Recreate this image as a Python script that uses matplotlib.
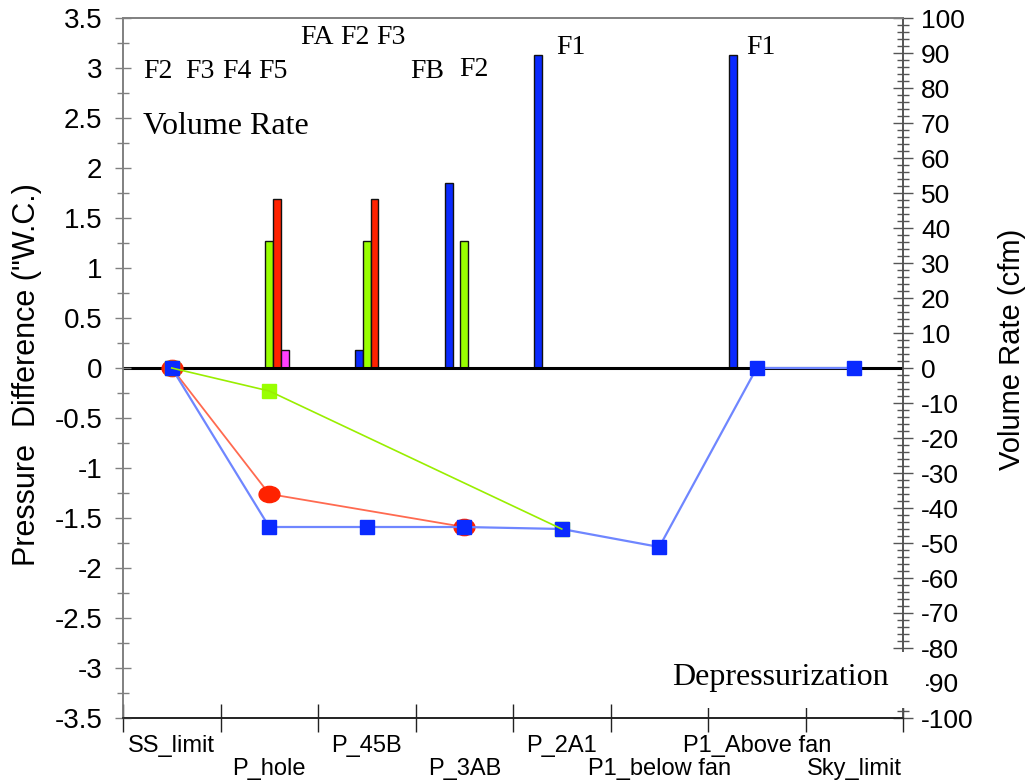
import matplotlib
matplotlib.use("Agg")
import matplotlib.pyplot as plt
from matplotlib.path import Path
from matplotlib.transforms import Affine2D
from matplotlib.patches import Rectangle
import numpy as np

# ---------------- data ----------------
categories = ["SS_limit", "P_hole", "P_45B", "P_3AB", "P_2A1",
              "P1_below fan", "P1_Above fan", "Sky_limit"]

# pressure difference ("W.C.) per location, None = no point
press_blue = [0, -1.59, -1.59, -1.59, -1.61, -1.79, 0, 0]
press_red = [0, -1.26, None, -1.59, None, None, None, None]
press_green = [0, -0.23, None, None, -1.61, None, None, None]

# volume rate (cfm) per flow, per location
flow_F1 = [0, 0, 0, 0, 89.4, 0, 89.4, 0]
flow_FB = [0, 0, 0, 52.9, 0, 0, 0, 0]
flow_FA = [0, 0, 5.1, 0, 0, 0, 0, 0]
flow_F2 = [0, 36.3, 36.3, 36.3, 0, 0, 0, 0]
flow_F3 = [0, 48.3, 48.3, 0, 0, 0, 0, 0]
flow_F5 = [0, 5.1, 0, 0, 0, 0, 0, 0]

left_ticks = [3.5, 3, 2.5, 2, 1.5, 1, 0.5, 0, -0.5, -1, -1.5, -2, -2.5, -3, -3.5]
right_ticks = list(range(-100, 101, 10))

BLUE = "#0a2aff"
RED = "#ff2200"
GREEN = "#99ff00"
MAGENTA = "#ff40ff"

SANS = "Liberation Sans"
SERIF = "Liberation Serif"

fig = plt.figure(figsize=(10.31, 7.84), dpi=100)
ax = fig.add_axes([123 / 1031, 66 / 784, 780 / 1031, 700 / 784])
ax2 = ax.twinx()
ax.set_zorder(ax2.get_zorder() + 1)
ax.patch.set_visible(False)

x = np.arange(len(categories))

# ---------------- bars (right axis) ----------------
bw = 0.08
bar_series = [(flow_F1, -3, BLUE), (flow_FB, -2, BLUE), (flow_FA, -1, BLUE),
              (flow_F2, 0, GREEN), (flow_F3, 1, RED), (flow_F5, 2, MAGENTA)]
for vals, slot, col in bar_series:
    xs = [xi + slot * bw for xi, v in zip(x, vals) if v != 0]
    vs = [v for v in vals if v != 0]
    ax2.bar(xs, vs, width=bw, color=col, edgecolor="#111111", linewidth=1.0, zorder=2)
ax2.axhline(0, color="black", lw=2.2, zorder=3)

# ---------------- lines (left axis) ----------------
def pts(vals):
    xs = [xi for xi, v in zip(x, vals) if v is not None]
    vs = [v for v in vals if v is not None]
    return xs, vs

ellipse = Affine2D().scale(1.0, 0.78).transform_path(Path.unit_circle())

xr, yr = pts(press_red)
ax.plot(xr, yr, color="#ff6a50", lw=1.3, zorder=3)
ax.plot(xr, yr, ls="none", marker=ellipse, ms=15, color=RED, zorder=4)
xg, yg = pts(press_green)
ax.plot(xg, yg, ls="none", marker="s", ms=10, color=GREEN, zorder=4)
xb, yb = pts(press_blue)
ax.plot(xb, yb, color="#6f86ff", lw=1.6, zorder=5)
ax.plot(xb, yb, ls="none", marker="s", ms=10, color=BLUE, zorder=6)
ax.plot(xg, yg, color="#99ee00", lw=1.2, zorder=7)

# ---------------- axes formatting ----------------
ax.set_xlim(-0.5, len(categories) - 0.5)
ax.set_ylim(-3.5, 3.5)
ax2.set_ylim(-100, 100)

ax.set_yticks(left_ticks)
ax.set_yticklabels([("%g" % t) for t in left_ticks], fontfamily=SANS, fontsize=20)
ax.set_yticks(np.arange(-3.5, 3.51, 0.25), minor=True)
ax.tick_params(axis="y", which="major", direction="inout", length=12, width=1,
               color="#808080", pad=9)
ax.tick_params(axis="y", which="minor", direction="inout", length=8, width=1,
               color="#808080")

ax2.set_yticks(right_ticks)
ax2.set_yticklabels([str(t) for t in right_ticks], fontfamily=SANS, fontsize=19)
ax2.set_yticks(np.arange(-100, 101, 2), minor=True)
ax2.tick_params(axis="y", which="major", direction="inout", length=14, width=1,
                color="#555555", pad=6)
ax2.tick_params(axis="y", which="minor", direction="inout", length=8, width=1,
                color="#555555")

ax.set_xticks(np.arange(-0.5, len(categories), 1.0))
ax.set_xticklabels([])
ax.set_xticks(x, minor=True)
ax.set_xticklabels(categories, minor=True, fontfamily=SANS, fontsize=17)
ax.tick_params(axis="x", which="major", direction="inout", length=20, width=1,
               color="#222222")
ax.tick_params(axis="x", which="minor", length=0)
for i, t in enumerate(ax.xaxis.get_minor_ticks()):
    t.set_pad(12 if i % 2 == 0 else 29)
ax2.tick_params(axis="x", which="both", length=0)

for a in (ax, ax2):
    a.spines["left"].set_color("#808080")
    a.spines["top"].set_color("#808080")
    a.spines["right"].set_color("#555555")
    a.spines["bottom"].set_color("#222222")
    for s in a.spines.values():
        s.set_linewidth(1.2)

ax.set_ylabel('Pressure  Difference ("W.C.)', fontfamily=SANS, fontsize=22)
ax.yaxis.set_label_coords(-0.104, 0.49)
ax2.set_ylabel("Volume Rate (cfm)", fontfamily=SANS, fontsize=21, rotation=90)
ax2.yaxis.set_label_coords(1.122, 0.526)

# ---------------- annotations ----------------
def px2data(px, py):
    return (px - 123) / 97.5 - 0.5, (368 - py) / 100.0

def note(txt, px, py, fs=20):
    xd, yd = px2data(px, py)
    ax.text(xd, yd, txt, fontfamily=SERIF, fontsize=fs, ha="left", va="center", zorder=8)

for txt, px in [("F2", 143), ("F3", 185), ("F4", 222), ("F5", 258)]:
    note(txt, px, 71)
for txt, px in [("FA", 300), ("F2", 340), ("F3", 376)]:
    note(txt, px, 38)
note("FB", 410, 71)
note("F2", 459, 70)
note("F1", 556, 47)
note("F1", 746, 48)
note("Volume Rate", 143, 126, fs=23)

fig.patches.append(Rectangle((662 / 1031, 1 - 708 / 784), (926 - 662) / 1031,
                             (708 - 652) / 784, transform=fig.transFigure,
                             facecolor="white", edgecolor="none", zorder=10))
fig.text(672 / 1031, 1 - 677 / 784, "Depressurization", fontfamily=SERIF,
         fontsize=23, ha="left", va="center", zorder=11)

fig.savefig("out.png", dpi=100)
